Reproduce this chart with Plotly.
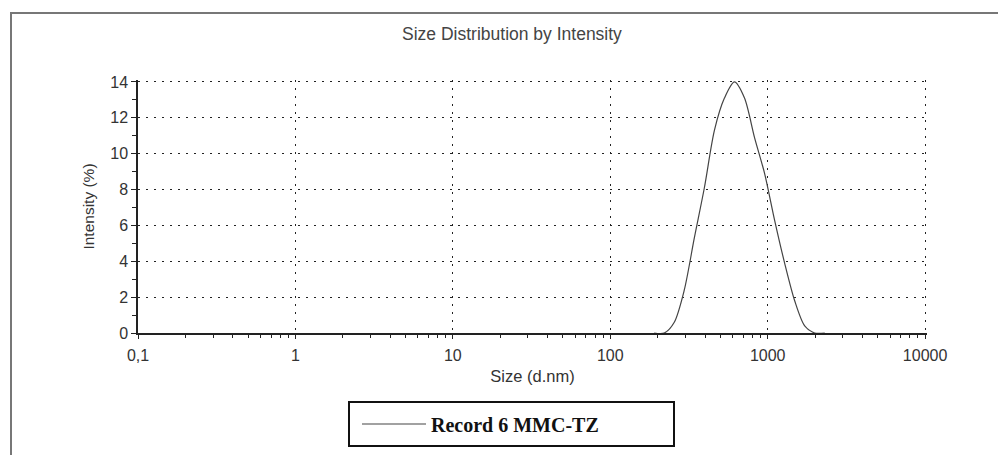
import plotly.graph_objects as go

# Data
size_nm = [190.1, 220.2, 255.0, 295.3, 342.0, 396.1, 458.7, 531.2, 615.1, 712.4,
           825.0, 955.4, 1106, 1281, 1484, 1718, 1990, 2305]
intensity = [0, 0, 0.6, 2.4, 5.3, 8.1, 11.3, 13.1, 14.0, 13.1,
             10.9, 8.9, 6.3, 3.9, 1.8, 0.4, 0, 0]
x_tick_vals = [0.1, 1, 10, 100, 1000, 10000]
x_tick_text = ["0,1", "1", "10", "100", "1000", "10000"]
y_tick_vals = [0, 2, 4, 6, 8, 10, 12, 14]

fig = go.Figure()
fig.add_trace(go.Scatter(
    x=size_nm, y=intensity, mode="lines", name="Record 6 MMC-TZ",
    line=dict(color="#444444", width=1.2, shape="spline", smoothing=0.8),
))

grid_col = "#222222"
fig.update_layout(
    width=998, height=455,
    margin=dict(l=138, r=71, t=80, b=122),
    paper_bgcolor="white", plot_bgcolor="white",
    font=dict(family="Liberation Sans, Arial, sans-serif", size=16, color="#333333"),
    title=dict(text="Size Distribution by Intensity", x=0.513, xanchor="center",
               y=1 - 34 / 455, yanchor="middle",
               font=dict(size=17.5, color="#444444")),
    showlegend=True,
    legend=dict(x=(357 - 138) / 789, xanchor="left", y=(333 - 424) / 253, yanchor="middle",
                bgcolor="rgba(0,0,0,0)", borderwidth=0, itemwidth=64,
                font=dict(family="Liberation Serif, Times New Roman, serif", size=20,
                          color="#111111", weight="bold")),
    shapes=[
        # legend box
        dict(type="rect", xref="paper", yref="paper",
             x0=(349 - 138) / 789, x1=(674 - 138) / 789,
             y0=(333 - 446) / 253, y1=(333 - 402) / 253,
             line=dict(color="#111111", width=2)),
        # outer frame
        dict(type="rect", xref="paper", yref="paper",
             x0=(11 - 138) / 789, x1=(1010 - 138) / 789,
             y0=(333 - 470) / 253, y1=(333 - 13) / 253,
             line=dict(color="#777777", width=2)),
    ],
)

fig.update_xaxes(
    type="log", range=[-1, 4.012],
    tickmode="array", tickvals=x_tick_vals, ticktext=x_tick_text,
    showline=True, linecolor="#222222", linewidth=1.5,
    ticks="outside", ticklen=4, tickcolor="#222222",
    ticklabelstandoff=3, tickfont=dict(size=16, color="#333333"),
    showgrid=True, gridcolor=grid_col, gridwidth=1, griddash="2px,6px",
    minor=dict(ticks="outside", ticklen=3, tickcolor="#222222", dtick="D1", showgrid=False),
    zeroline=False,
    title=dict(text="Size (d.nm)", standoff=7, font=dict(size=16.5, color="#333333")),
)
fig.update_yaxes(
    range=[0, 14.11], tickvals=y_tick_vals,
    showline=True, linecolor="#222222", linewidth=1.5,
    ticks="outside", ticklen=5, tickcolor="#222222",
    tickfont=dict(size=16, color="#333333"),
    showgrid=True, gridcolor=grid_col, gridwidth=1, griddash="2px,6px",
    minor=dict(ticks="outside", ticklen=4, tickcolor="#222222", dtick=1, showgrid=False),
    zeroline=False,
    title=dict(text="Intensity (%)", standoff=12, font=dict(size=15.5, color="#333333")),
)

fig.write_html("out.html")
